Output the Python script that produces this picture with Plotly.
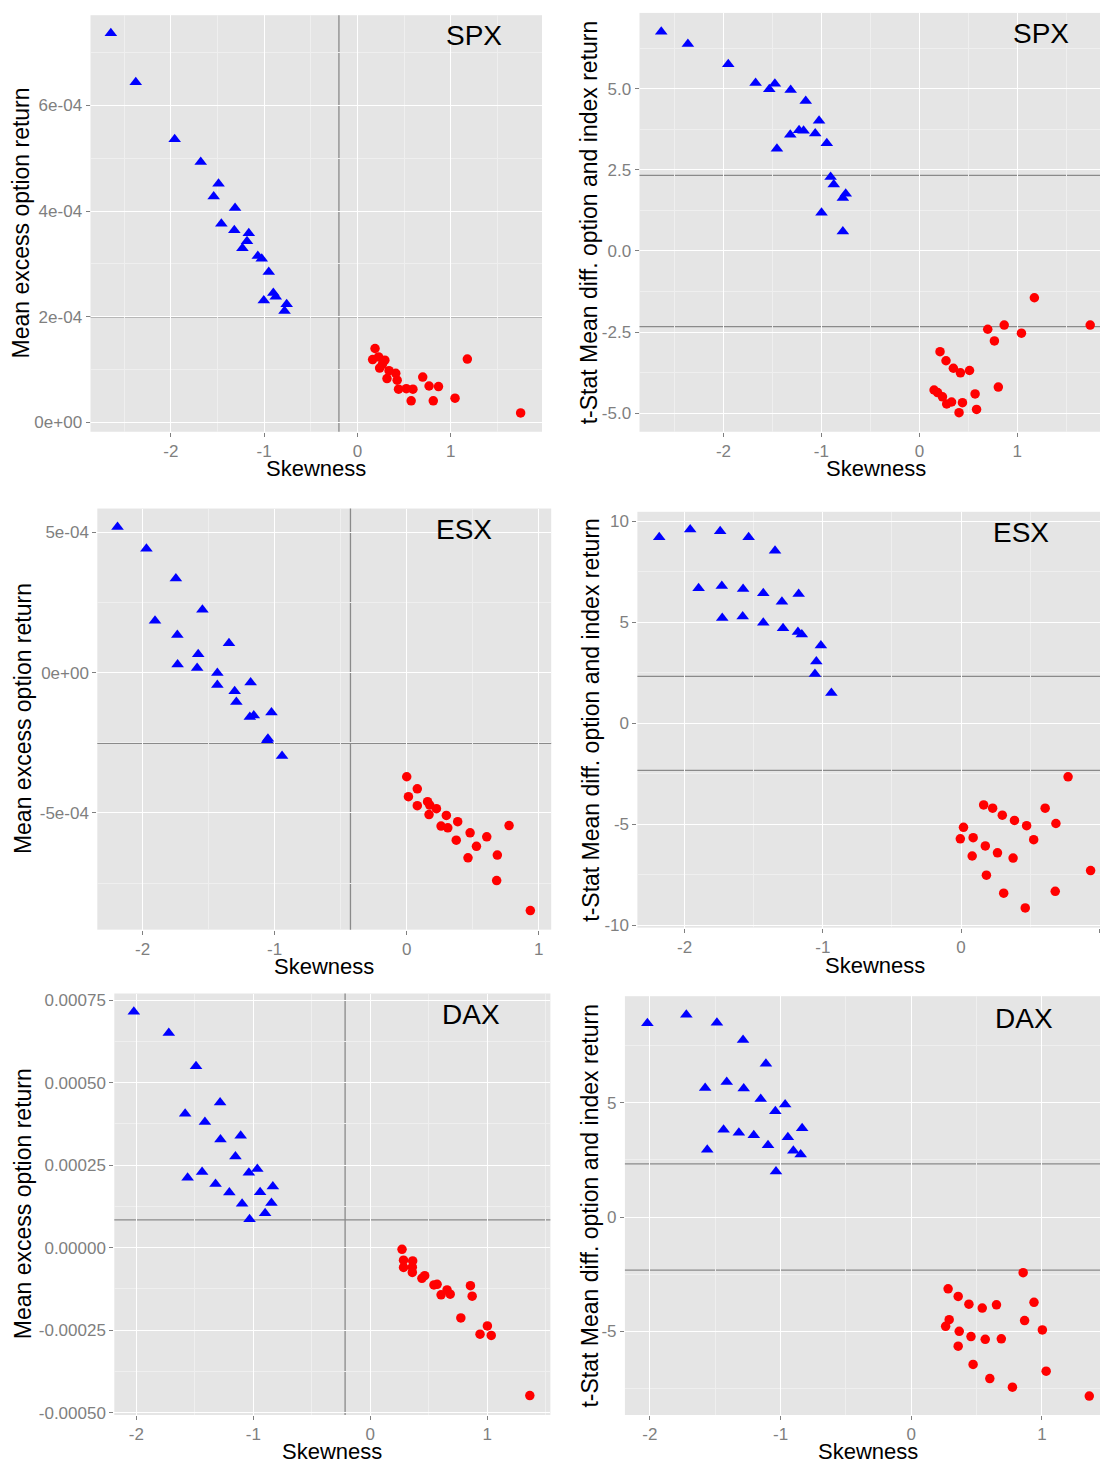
import plotly.graph_objects as go

W, H = 1100, 1470

# ---------------- data ----------------
# SPX: mean excess option return
spx_ret_neg_x = [-2.643, -2.376, -1.959, -1.680, -1.489, -1.541, -1.312, -1.459, -1.320, -1.165,
                 -1.184, -1.233, -1.068, -1.026, -0.951, -0.902, -0.876, -1.004, -0.759, -0.782]
spx_ret_neg_y = [7.37e-4, 6.44e-4, 5.36e-4, 4.93e-4, 4.52e-4, 4.28e-4, 4.06e-4, 3.76e-4, 3.64e-4, 3.58e-4,
                 3.43e-4, 3.30e-4, 3.15e-4, 3.10e-4, 2.85e-4, 2.45e-4, 2.38e-4, 2.31e-4, 2.24e-4, 2.11e-4]
spx_ret_pos_x = [0.188, 0.162, 0.226, 0.293, 0.267, 0.237, 0.338, 0.410, 0.316, 0.425, 0.440,
                 0.523, 0.594, 0.575, 0.699, 0.767, 0.868, 0.812, 1.045, 1.177, 1.748]
spx_ret_pos_y = [1.40e-4, 1.19e-4, 1.24e-4, 1.18e-4, 1.10e-4, 1.03e-4, 0.98e-4, 0.93e-4, 0.83e-4, 0.80e-4, 0.63e-4,
                 0.64e-4, 0.63e-4, 0.41e-4, 0.86e-4, 0.69e-4, 0.68e-4, 0.41e-4, 0.46e-4, 1.20e-4, 0.18e-4]
spx_ret_vline = -0.199
spx_ret_hline = 2.0e-4

# SPX: t-stat
spx_t_neg_x = [-2.635, -2.363, -1.951, -1.672, -1.475, -1.532, -1.314, -1.160, -1.024, -1.228, -1.182,
               -1.063, -1.318, -0.945, -1.454, -0.906, -0.874, -0.752, -0.781, -0.999, -0.781]
spx_t_neg_y = [6.75, 6.37, 5.75, 5.17, 5.15, 4.98, 4.96, 4.62, 4.01, 3.72, 3.70,
               3.62, 3.58, 3.32, 3.15, 2.28, 2.05, 1.76, 1.63, 1.18, 0.60]
spx_t_pos_x = [1.174, 0.698, 0.866, 1.042, 1.744, 0.766, 0.211, 0.272, 0.347, 0.419, 0.512,
               0.806, 0.150, 0.186, 0.236, 0.569, 0.329, 0.279, 0.440, 0.584, 0.405]
spx_t_pos_y = [-1.44, -2.41, -2.28, -2.53, -2.28, -2.77, -3.10, -3.38, -3.61, -3.75, -3.68,
               -4.19, -4.28, -4.36, -4.49, -4.40, -4.65, -4.71, -4.67, -4.88, -4.98]

# ESX: mean excess option return
esx_ret_neg_x = [-2.190, -1.971, -1.748, -1.547, -1.906, -1.737, -1.346, -1.579, -1.735, -1.587, -1.434,
                 -1.182, -1.434, -1.303, -1.290, -1.024, -1.158, -1.188, -1.051, -1.056, -0.944]
esx_ret_neg_y = [5.19e-4, 4.42e-4, 3.36e-4, 2.24e-4, 1.85e-4, 1.34e-4, 1.05e-4, 0.66e-4, 0.29e-4, 0.17e-4, -0.01e-4,
                 -0.35e-4, -0.44e-4, -0.66e-4, -1.05e-4, -1.42e-4, -1.53e-4, -1.58e-4, -2.36e-4, -2.41e-4, -2.97e-4]
esx_ret_pos_x = [0.000, 0.080, 0.013, 0.158, 0.174, 0.225, 0.080, 0.169, 0.300, 0.386, 0.260,
                 0.311, 0.480, 0.775, 0.606, 0.375, 0.528, 0.686, 0.464, 0.681, 0.936]
esx_ret_pos_y = [-3.71e-4, -4.14e-4, -4.42e-4, -4.60e-4, -4.72e-4, -4.85e-4, -4.74e-4, -5.06e-4, -5.09e-4, -5.31e-4, -5.47e-4,
                 -5.53e-4, -5.71e-4, -5.45e-4, -5.85e-4, -5.97e-4, -6.19e-4, -6.50e-4, -6.60e-4, -7.41e-4, -8.48e-4]
esx_ret_vline = -0.426
esx_ret_hline = -2.52e-4

# ESX: t-stat
esx_t_neg_x = [-2.184, -1.960, -1.743, -1.537, -1.346, -1.899, -1.731, -1.577, -1.431, -1.175, -1.296,
               -1.728, -1.580, -1.431, -1.288, -1.180, -1.152, -1.014, -1.047, -1.057, -0.938]
esx_t_neg_y = [9.22, 9.60, 9.52, 9.22, 8.55, 6.69, 6.80, 6.66, 6.44, 6.41, 6.03,
               5.22, 5.30, 4.99, 4.71, 4.53, 4.40, 3.86, 3.07, 2.44, 1.50]
esx_t_pos_x = [0.775, 0.164, 0.229, 0.609, 0.299, 0.387, 0.687, 0.475, 0.018, 0.088, -0.005,
               0.526, 0.176, 0.264, 0.081, 0.377, 0.938, 0.184, 0.682, 0.309, 0.465]
esx_t_pos_y = [-2.65, -4.04, -4.20, -4.20, -4.55, -4.81, -4.96, -5.07, -5.15, -5.66, -5.72,
               -5.76, -6.07, -6.41, -6.57, -6.67, -7.29, -7.52, -8.32, -8.41, -9.14]

# DAX: mean excess option return
dax_ret_neg_x = [-2.022, -1.723, -1.490, -1.284, -1.583, -1.414, -1.108, -1.281, -1.153, -0.966, -1.038,
                 -1.438, -1.562, -1.323, -0.833, -1.205, -0.942, -1.096, -0.845, -0.899, -1.032]
dax_ret_neg_y = [7.15e-4, 6.50e-4, 5.50e-4, 4.40e-4, 4.06e-4, 3.81e-4, 3.39e-4, 3.28e-4, 2.76e-4, 2.38e-4, 2.27e-4,
                 2.29e-4, 2.12e-4, 1.93e-4, 1.85e-4, 1.67e-4, 1.68e-4, 1.33e-4, 1.35e-4, 1.04e-4, 0.86e-4]
dax_ret_pos_x = [0.272, 0.285, 0.363, 0.285, 0.360, 0.360, 0.466, 0.442, 0.545, 0.572,
                 0.657, 0.606, 0.684, 0.857, 0.872, 0.775, 1.002, 0.939, 1.035, 1.365]
dax_ret_pos_y = [-0.05e-4, -0.38e-4, -0.40e-4, -0.60e-4, -0.59e-4, -0.75e-4, -0.85e-4, -0.93e-4, -1.13e-4, -1.11e-4,
                 -1.28e-4, -1.43e-4, -1.41e-4, -1.15e-4, -1.47e-4, -2.13e-4, -2.37e-4, -2.62e-4, -2.66e-4, -4.48e-4]
dax_ret_vline = -0.215
dax_ret_hline = 0.843e-4

# DAX: t-stat
dax_t_neg_x = [-2.019, -1.721, -1.487, -1.287, -1.112, -1.412, -1.577, -1.282, -1.152, -0.965, -1.040,
               -0.835, -1.436, -1.319, -1.205, -0.944, -1.096, -1.561, -0.902, -0.846, -1.035]
dax_t_neg_y = [8.49, 8.87, 8.52, 7.76, 6.72, 5.92, 5.65, 5.63, 5.17, 4.93, 4.64,
               3.89, 3.83, 3.69, 3.58, 3.50, 3.15, 2.95, 2.90, 2.74, 1.99]
dax_t_pos_x = [0.856, 0.282, 0.359, 0.441, 0.543, 0.652, 0.939, 0.290, 0.867, 0.263, 0.367,
               1.003, 0.457, 0.566, 0.689, 0.359, 0.473, 1.032, 0.601, 0.774, 1.362]
dax_t_pos_y = [-2.44, -3.15, -3.48, -3.82, -3.99, -3.85, -3.74, -4.50, -4.54, -4.79, -5.01,
               -4.95, -5.24, -5.36, -5.34, -5.66, -6.46, -6.76, -7.08, -7.46, -7.85]

t_crit = 2.33

# tick labels
x_ticks = [-2, -1, 0, 1]
x_ticktext = ["-2", "-1", "0", "1"]
spx_ret_yticks = [0, 2e-4, 4e-4, 6e-4]
spx_ret_yticktext = ["0e+00", "2e-04", "4e-04", "6e-04"]
spx_t_yticks = [-5, -2.5, 0, 2.5, 5]
spx_t_yticktext = ["-5.0", "-2.5", "0.0", "2.5", "5.0"]
esx_ret_yticks = [-5e-4, 0, 5e-4]
esx_ret_yticktext = ["-5e-04", "0e+00", "5e-04"]
esx_t_yticks = [-10, -5, 0, 5, 10]
esx_t_yticktext = ["-10", "-5", "0", "5", "10"]
dax_ret_yticks = [-5e-4, -2.5e-4, 0, 2.5e-4, 5e-4, 7.5e-4]
dax_ret_yticktext = ["-0.00050", "-0.00025", "0.00000", "0.00025", "0.00050", "0.00075"]
dax_t_yticks = [-5, 0, 5]
dax_t_yticktext = ["-5", "0", "5"]

ylab_ret = "Mean excess option return"
ylab_t = "t-Stat Mean diff. option and index return"
xlab = "Skewness"

# ---------------- styling ----------------
FONT = "Liberation Sans, Arial, Helvetica, sans-serif"
BG = "#E5E5E5"
GRID = "#FFFFFF"
MINOR = "#EFEFEF"
TICKCOL = "#7F7F7F"
REFCOL = "#8A8A8A"
BLUE = "#0000FF"
RED = "#FF0000"

panels = [
    dict(name="SPX", neg=(spx_ret_neg_x, spx_ret_neg_y), pos=(spx_ret_pos_x, spx_ret_pos_y),
         box=(90.5, 542, 13.3, 432.7), xr=[-2.861, 1.977], yr=[-1.76e-5, 7.71e-4],
         xminor=[-2.5, -1.5, -0.5, 0.5, 1.5], yminor=[1e-4, 3e-4, 5e-4, 7e-4],
         yt=(spx_ret_yticks, spx_ret_yticktext), ylab=ylab_ret, ylabx=21,
         xlabpos=(316, 470), namepos=(474, 34), v=spx_ret_vline, h=[spx_ret_hline]),
    dict(name="SPX", neg=(spx_t_neg_x, spx_t_neg_y), pos=(spx_t_pos_x, spx_t_pos_y),
         box=(639.5, 1100, 11, 432.7), xr=[-2.857, 1.844], yr=[-5.566, 7.33],
         xminor=[-2.5, -1.5, -0.5, 0.5, 1.5], yminor=[-3.75, -1.25, 1.25, 3.75, 6.25],
         yt=(spx_t_yticks, spx_t_yticktext), ylab=ylab_t, ylabx=589,
         xlabpos=(876, 470), namepos=(1041, 32), v=None, h=[t_crit, -t_crit]),
    dict(name="ESX", neg=(esx_ret_neg_x, esx_ret_neg_y), pos=(esx_ret_pos_x, esx_ret_pos_y),
         box=(97.3, 551.2, 510, 934), xr=[-2.343, 1.094], yr=[-9.16e-4, 5.85e-4],
         xminor=[-1.5, -0.5, 0.5], yminor=[-7.5e-4, -2.5e-4, 2.5e-4],
         yt=(esx_ret_yticks, esx_ret_yticktext), ylab=ylab_ret, ylabx=23,
         xlabpos=(324, 971), namepos=(464, 531), v=esx_ret_vline, h=[esx_ret_hline]),
    dict(name="ESX", neg=(esx_t_neg_x, esx_t_neg_y), pos=(esx_t_pos_x, esx_t_pos_y),
         box=(637.4, 1100, 513.3, 932), xr=[-2.342, 1.006], yr=[-10.12, 10.48],
         xminor=[-1.5, -0.5, 0.5], yminor=[-7.5, -2.5, 2.5, 7.5],
         yt=(esx_t_yticks, esx_t_yticktext), ylab=ylab_t, ylabx=591,
         xlabpos=(875, 970), namepos=(1021, 534), v=None, h=[t_crit, -t_crit]),
    dict(name="DAX", neg=(dax_ret_neg_x, dax_ret_neg_y), pos=(dax_ret_pos_x, dax_ret_pos_y),
         box=(114.3, 550.4, 998.3, 1422.7), xr=[-2.189, 1.541], yr=[-5.07e-4, 7.70e-4],
         xminor=[-1.5, -0.5, 0.5, 1.5], yminor=[-3.75e-4, -1.25e-4, 1.25e-4, 3.75e-4, 6.25e-4],
         yt=(dax_ret_yticks, dax_ret_yticktext), ylab=ylab_ret, ylabx=23,
         xlabpos=(332, 1459), namepos=(471, 1019), v=dax_ret_vline, h=[dax_ret_hline]),
    dict(name="DAX", neg=(dax_t_neg_x, dax_t_neg_y), pos=(dax_t_pos_x, dax_t_pos_y),
         box=(624.9, 1100, 1001, 1422.7), xr=[-2.191, 1.444], yr=[-8.68, 9.68],
         xminor=[-1.5, -0.5, 0.5], yminor=[-7.5, -2.5, 2.5, 7.5],
         yt=(dax_t_yticks, dax_t_yticktext), ylab=ylab_t, ylabx=590,
         xlabpos=(868, 1459), namepos=(1024, 1023), v=None, h=[t_crit, -t_crit]),
]

fig = go.Figure()
layout = dict(
    width=W, height=H, margin=dict(l=0, r=0, t=0, b=0),
    paper_bgcolor="white", plot_bgcolor=BG, showlegend=False,
    font=dict(family=FONT, color="black"),
)
annotations = []
shapes = []


def px_x(v):
    return min(1.0, v / W)


def px_y(v):
    return 1 - v / H


for i, p in enumerate(panels, start=1):
    sfx = "" if i == 1 else str(i)
    xa, ya = "x" + sfx, "y" + sfx
    fig.add_trace(go.Scatter(
        x=p["neg"][0], y=p["neg"][1], mode="markers", xaxis=xa, yaxis=ya,
        marker=dict(symbol="triangle-up", size=11, color=BLUE, line=dict(width=0))))
    fig.add_trace(go.Scatter(
        x=p["pos"][0], y=p["pos"][1], mode="markers", xaxis=xa, yaxis=ya,
        marker=dict(symbol="circle", size=9.5, color=RED, line=dict(width=0))))

    x0, x1, y0, y1 = p["box"]
    common = dict(
        showgrid=True, gridcolor=GRID, gridwidth=1.1, zeroline=False, showline=False,
        ticks="outside", ticklen=4, tickwidth=1, tickcolor=TICKCOL,
        tickfont=dict(family=FONT, size=17, color=TICKCOL),
        tickmode="array", fixedrange=True,
    )
    layout["xaxis" + sfx] = dict(
        common, domain=[px_x(x0), px_x(x1)], range=p["xr"], anchor=ya,
        tickvals=x_ticks, ticktext=x_ticktext,
        minor=dict(tickvals=p["xminor"], showgrid=True, gridcolor=MINOR, gridwidth=1, ticks=""),
    )
    layout["yaxis" + sfx] = dict(
        common, domain=[px_y(y1), px_y(y0)], range=p["yr"], anchor=xa,
        tickvals=p["yt"][0], ticktext=p["yt"][1],
        minor=dict(tickvals=p["yminor"], showgrid=True, gridcolor=MINOR, gridwidth=1, ticks=""),
    )

    # reference lines
    if p["v"] is not None:
        shapes.append(dict(type="line", xref=xa, yref="paper", x0=p["v"], x1=p["v"],
                           y0=px_y(y1), y1=px_y(y0),
                           line=dict(color=REFCOL, width=1.3), layer="below"))
    for hv in p["h"]:
        shapes.append(dict(type="line", xref="paper", yref=ya, x0=px_x(x0), x1=px_x(x1),
                           y0=hv, y1=hv,
                           line=dict(color=REFCOL, width=1.3), layer="below"))

    # panel label
    annotations.append(dict(text=p["name"], xref="paper", yref="paper",
                            x=px_x(p["namepos"][0]), y=px_y(p["namepos"][1]),
                            xanchor="center", yanchor="middle", showarrow=False,
                            font=dict(family=FONT, size=28, color="black")))
    # axis titles
    annotations.append(dict(text=xlab, xref="paper", yref="paper",
                            x=px_x(p["xlabpos"][0]), y=px_y(p["xlabpos"][1]),
                            xanchor="center", yanchor="middle", showarrow=False,
                            font=dict(family=FONT, size=22, color="black")))
    annotations.append(dict(text=p["ylab"], xref="paper", yref="paper",
                            x=px_x(p["ylabx"]), y=px_y((y0 + y1) / 2), textangle=-90,
                            xanchor="center", yanchor="middle", showarrow=False,
                            font=dict(family=FONT, size=23, color="black")))

layout["annotations"] = annotations
layout["shapes"] = shapes
fig.update_layout(**layout)

# pin the chart to the window's top-left corner so the page has no margin or overflow
pin_js = (
    "document.documentElement.style.margin='0';"
    "document.documentElement.style.overflow='hidden';"
    "document.body.style.margin='0';"
    "document.body.style.overflow='hidden';"
    "var gd=document.getElementById('{plot_id}');"
    "gd.style.position='fixed';gd.style.left='0px';gd.style.top='0px';"
)
fig.write_html("out.html", config={"displayModeBar": False}, post_script=pin_js)
